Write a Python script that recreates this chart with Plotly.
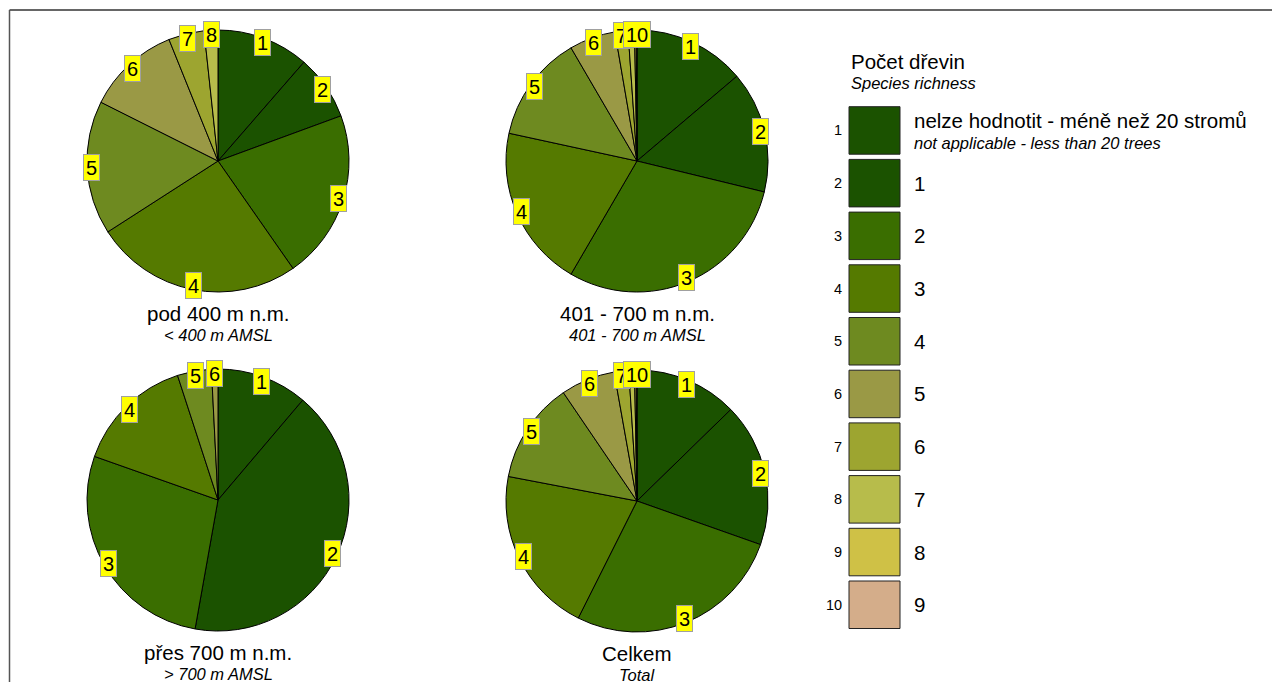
import math
import plotly.graph_objects as go

# ---- data ----
class_ids = [1, 2, 3, 4, 5, 6, 7, 8, 9, 10]
class_labels = ["nelze hodnotit - méně než 20 stromů", "1", "2", "3", "4", "5", "6", "7", "8", "9"]
class_colors = ["#1b5200", "#1b5200", "#3a6e00", "#557a00", "#6e8a20",
                "#9a9945", "#9da530", "#b7bc4b", "#cfc146", "#d4ad8a"]

pie_titles = ["pod 400 m n.m.", "401 - 700 m n.m.", "přes 700 m n.m.", "Celkem"]
pie_subtitles = ["< 400 m AMSL", "401 - 700 m AMSL", "> 700 m AMSL", "Total"]

share_below400 = [11.4, 8.0, 20.9, 25.6, 16.5, 11.5, 4.4, 1.7, 0.0, 0.0]
share_401_700 = [13.8, 15.0, 29.6, 20.0, 13.2, 5.7, 1.6, 0.8, 0.2, 0.1]
share_above700 = [11.2, 41.6, 27.6, 14.6, 4.2, 0.8, 0.0, 0.0, 0.0, 0.0]
share_total = [12.7, 17.7, 27.0, 20.6, 12.5, 6.7, 1.8, 0.7, 0.2, 0.1]
pie_values = [share_below400, share_401_700, share_above700, share_total]

# ---- layout geometry (page pixels; page body has an 8px margin) ----
PW, PH = 1280, 682
OFF = 8
W, H = PW - OFF, PH - OFF
R = 131
centers = [(218, 161), (637, 161), (218, 500), (637, 501)]
FONT = "Arial, Liberation Sans, sans-serif"


def px2x(px):
    return (px - OFF) / W


def py2y(py):
    return 1 - (py - OFF) / H


fig = go.Figure()
annotations = []
shapes = []


def text_ann(px, py, text, size, anchor="center"):
    annotations.append(dict(x=px2x(px), y=py2y(py), xref="paper", yref="paper",
                            text=text, showarrow=False,
                            font=dict(family=FONT, size=size, color="#000000"),
                            xanchor=anchor, yanchor="middle"))


for k, vals in enumerate(pie_values):
    cx, cy = centers[k]
    dom_x = [px2x(cx - R), px2x(cx + R)]
    dom_y = [py2y(cy + R), py2y(cy - R)]
    n = max(i for i, v in enumerate(vals) if v > 0) + 1
    fig.add_trace(go.Pie(
        values=vals[:n],
        labels=[str(c) for c in class_ids[:n]],
        marker=dict(colors=class_colors[:n], line=dict(color="#000000", width=1)),
        sort=False, direction="clockwise", rotation=0,
        textinfo="none", hoverinfo="label+value",
        domain=dict(x=dom_x, y=dom_y), showlegend=False,
    ))
    total = sum(vals)
    cum = 0.0
    rl = 0.965 * R
    for i in range(n):
        v = vals[i]
        mid = (cum + v / 2) / total * 2 * math.pi
        cum += v
        if v <= 0:
            continue
        px = cx + rl * math.sin(mid)
        py = cy - rl * math.cos(mid)
        lab = str(class_ids[i])
        annotations.append(dict(
            x=px2x(px), y=py2y(py), xref="paper", yref="paper",
            text=lab, showarrow=False,
            font=dict(family=FONT, size=20, color="#000000"),
            bgcolor="#ffff00", bordercolor="#a0a0a0", borderwidth=1, borderpad=0,
            width=11 * len(lab) + 4, height=25,
            xanchor="center", yanchor="middle",
        ))
    text_ann(cx, cy + 152, pie_titles[k], 20.5)
    text_ann(cx, cy + 174, "<i>" + pie_subtitles[k] + "</i>", 16.5)

# ---- legend (drawn) ----
text_ann(849, 61, "Počet dřevin", 20.5, "left")
text_ann(849, 83, "<i>Species richness</i>", 16.5, "left")
top0, pitch, sh = 106.7, 52.7, 47.5
for i, cid in enumerate(class_ids):
    t = top0 + i * pitch
    shapes.append(dict(type="rect", xref="paper", yref="paper",
                       x0=px2x(849), x1=px2x(900), y0=py2y(t + sh), y1=py2y(t),
                       fillcolor=class_colors[i], line=dict(color="#222222", width=1)))
    mid = t + sh / 2
    text_ann(844, mid, str(cid), 14.5, "right")
    if i == 0:
        text_ann(912, t + 13.5, class_labels[i], 20.5, "left")
        text_ann(912, t + 36, "<i>not applicable - less than 20 trees</i>", 16.5, "left")
    else:
        text_ann(912, mid, class_labels[i], 20.5, "left")

# frame lines (top and left)
shapes.append(dict(type="line", xref="paper", yref="paper", x0=px2x(9.5), x1=1.0,
                   y0=py2y(10), y1=py2y(10), line=dict(color="#333333", width=1.5)))
shapes.append(dict(type="line", xref="paper", yref="paper", x0=px2x(9.5), x1=px2x(9.5),
                   y0=0, y1=py2y(10), line=dict(color="#555555", width=1.5)))

fig.update_layout(
    width=W, height=H, margin=dict(l=0, r=0, t=0, b=0),
    paper_bgcolor="#ffffff", plot_bgcolor="#ffffff",
    annotations=annotations, shapes=shapes, showlegend=False,
    font=dict(family=FONT),
)
fig.write_html("out.html")
